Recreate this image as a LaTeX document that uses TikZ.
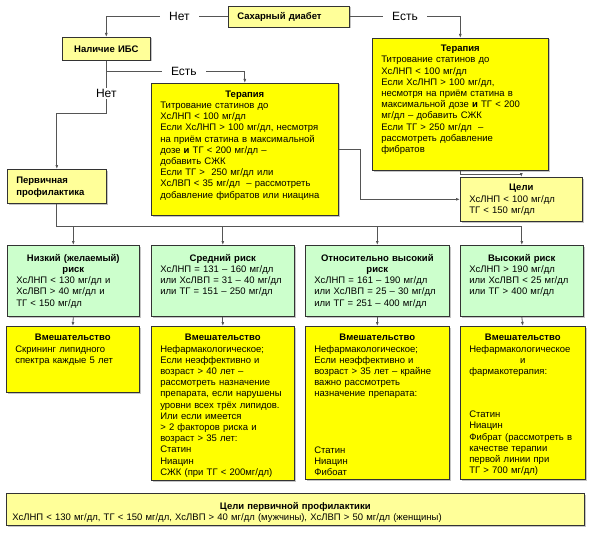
\documentclass[tikz,border=0pt]{standalone}
\usepackage{fontspec}
\setmainfont{Liberation Sans}
\usetikzlibrary{arrows.meta,shadows}
\definecolor{paleyellow}{HTML}{FFFF99}
\definecolor{brightyellow}{HTML}{FFFF00}
\definecolor{palegreen}{HTML}{CCFFCC}
\definecolor{linegray}{HTML}{555555}
\newcommand{\boxtitle}[1]{{\centering\bfseries #1\par}}
\begin{document}
\begin{tikzpicture}[x=1pt,y=-1pt,
  >={Latex[length=4pt,width=3pt]},
  box/.style={draw=black!80, line width=0.6pt, anchor=north west,
    inner xsep=9pt, inner ysep=0pt, align=left,
    font=\fontsize{9.5}{11.2}\selectfont,
    drop shadow={shadow xshift=1.2pt, shadow yshift=-1.2pt, fill=black!45}},
  pale/.style={box, fill=paleyellow},
  bright/.style={box, fill=brightyellow},
  risk/.style={box, fill=palegreen, text height=16pt, text depth=55pt},
  act/.style={bright, text height=14.5pt},
  link/.style={draw=linegray, line width=0.8pt},
  lbl/.style={fill=white, inner xsep=9pt, inner ysep=1pt,
    font=\fontsize{12}{14}\selectfont}]
\path[use as bounding box, fill=white] (0,0) rectangle (592,535);

% top of the chart
\node[pale, text width=103pt, text height=13.5pt, text depth=7.5pt] (sd) at (228,6) {\textbf{Сахарный диабет}};
\node[pale, align=center, text width=70pt, text height=15pt, text depth=8pt] (ihd) at (62,37) {\textbf{Наличие ИБС}};
\node[bright, text width=158pt, text height=13.5pt, text depth=118.5pt] (therR) at (372,38) {\boxtitle{Терапия}
Титрование статинов до\\
ХсЛНП < 100 мг/дл\\
Если ХсЛНП > 100 мг/дл,\\
несмотря на приём статина в\\
максимальной дозе \textbf{и} ТГ < 200\\
мг/дл – добавить СЖК\\
Если ТГ > 250 мг/дл~ –\\
рассмотреть добавление\\
фибратов};
\node[bright, text width=169pt, text height=14pt, text depth=118pt] (therM) at (151,83) {\boxtitle{Терапия}
Титрование статинов до\\
ХсЛНП < 100 мг/дл\\
Если ХсЛНП > 100 мг/дл, несмотря\\
на приём статина в максимальной\\
дозе \textbf{и} ТГ < 200 мг/дл –\\
добавить СЖК\\
Если ТГ > ~250 мг/дл или\\
ХсЛВП < 35 мг/дл~ – рассмотреть\\
добавление фибратов или ниацина};
\node[pale, text width=81pt, text height=14.5pt, text depth=19.5pt] (prim) at (7,169) {\bfseries Первичная\\профилактика};
\node[pale, text width=104pt, text height=13.5pt, text depth=30.5pt] (goals) at (460,177) {\boxtitle{Цели}
ХсЛНП < 100 мг/дл\\
ТГ < 150 мг/дл};

% risk levels
\node[risk, text width=114pt] (risk1) at (7,245) {\boxtitle{Низкий (желаемый)\\риск}
ХсЛНП < 130 мг/дл и\\
ХсЛВП > 40 мг/дл и\\
ТГ < 150 мг/дл};
\node[risk, text width=125pt] (risk2) at (151,245) {\boxtitle{Средний риск}
ХсЛНП = 131 – 160 мг/дл\\
или ХсЛВП = 31 – 40 мг/дл\\
или ТГ = 151 – 250 мг/дл};
\node[risk, text width=126pt] (risk3) at (305,245) {\boxtitle{Относительно высокий\\риск}
ХсЛНП = 161 – 190 мг/дл\\
или ХсЛВП = 25 – 30 мг/дл\\
или ТГ = 251 – 400 мг/дл};
\node[risk, text width=105pt] (risk4) at (460,245) {\boxtitle{Высокий риск}
ХсЛНП > 190 мг/дл\\
или ХсЛВП < 25 мг/дл\\
или ТГ > 400 мг/дл};

% interventions
\node[act, text width=115pt, text depth=51.5pt] (act1) at (6,326) {\boxtitle{Вмешательство}
Скрининг липидного\\
спектра каждые 5 лет};
\node[act, text width=125pt, text depth=139.5pt] (act2) at (151,326) {\boxtitle{Вмешательство}
Нефармакологическое;\\
Если неэффективно и\\
возраст > 40 лет –\\
рассмотреть назначение\\
препарата, если нарушены\\
уровни всех трёх липидов.\\
Или если имеется\\
> 2 факторов риска и\\
возраст > 35 лет:\\
Статин\\
Ниацин\\
СЖК (при ТГ < 200мг/дл)};
\node[act, text width=126pt, text depth=138.5pt] (act3) at (305,326) {\boxtitle{Вмешательство}
Нефармакологическое;\\
Если неэффективно и\\
возраст > 35 лет – крайне\\
важно рассмотреть\\
назначение препарата:\\[45pt]
Статин\\
Ниацин\\
Фибоат};
\node[act, text width=107pt, text depth=138.5pt] (act4) at (460,326) {\boxtitle{Вмешательство}
Нефармакологическое\par
{\centering и\par}
фармакотерапия:\\[32pt]
Статин\\
Ниацин\\
Фибрат (рассмотреть в\\
качестве терапии\\
первой линии при\\
ТГ > 700 мг/дл)};

% bottom goals
\node[pale, inner xsep=6pt, text width=566pt, text height=16pt, text depth=16pt] (primgoals) at (6,493) {\boxtitle{Цели первичной профилактики}
ХсЛНП < 130 мг/дл, ТГ < 150 мг/дл, ХсЛВП > 40 мг/дл (мужчины), ХсЛВП > 50 мг/дл (женщины)};

% connectors
\draw[link,->] (sd.west) -| node[lbl, pos=0.2] (no1) {Нет} (ihd.north);
\draw[link,->] (sd.east) -| node[lbl, pos=0.25] (yes1) {Есть} (therR.north);
\draw[link,->] (ihd.south) -- ++(0,11) -| node[lbl, pos=0.28] (yes2) {Есть} (therM.north);
\draw[link,->] (ihd.south) -- node[lbl, pos=0.62] (no2) {Нет} ++(0,53) -| (prim.north);
\draw[link,->] (therM.east) -- ++(22,0) |- (goals.west);
\draw[link,->] (therR.south) -- ++(0,3.5) -| (goals.north);
\draw[link,->] (prim.south) -- ++(0,23) coordinate (bus) -| (risk4.north);
\foreach \i in {1,2,3}
  \draw[link,->] (bus -| risk\i.north) -- (risk\i.north);
\foreach \i in {1,...,4}
  \draw[link,->] (risk\i.south) -- (act\i.north);
\end{tikzpicture}
\end{document}
